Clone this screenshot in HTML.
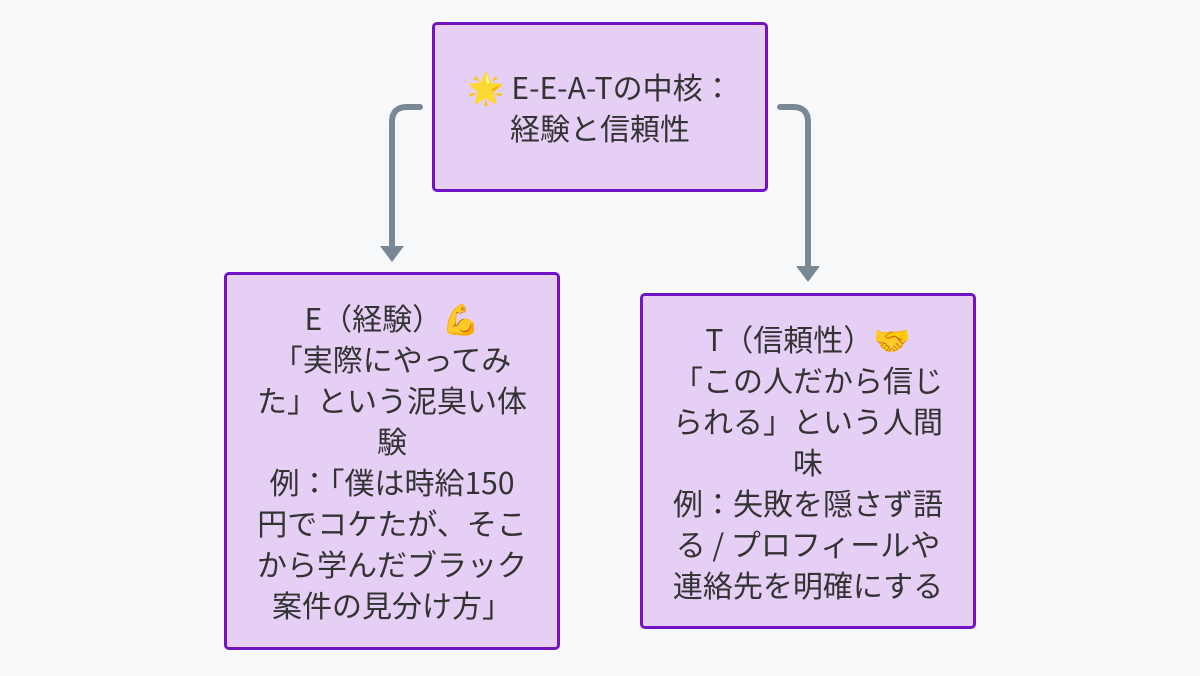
<!DOCTYPE html>
<html><head><meta charset="utf-8"><style>
body{margin:0;width:1200px;height:676px;background:#f8f9fb;position:relative;overflow:hidden;font-family:"Noto Sans CJK JP","Liberation Sans",sans-serif;color:#333;}
.b{position:absolute;box-sizing:border-box;background:#e5cff4;border:3px solid #7014c4;border-radius:5px;display:flex;align-items:center;justify-content:center;text-align:center;font-size:30px;line-height:41px;white-space:nowrap;}
svg{position:absolute;left:0;top:0}
</style></head><body>
<svg width="1200" height="676">
<g fill="none" stroke="#7a8795" stroke-width="6" stroke-linecap="round">
<path d="M420 107 H407 Q392 107 392 122 V248"/>
<path d="M780 107 H793 Q808 107 808 122 V268"/>
</g>
<polygon points="380,246 404,246 392,262" fill="#7a8795"/>
<polygon points="796,266 820,266 808,282" fill="#7a8795"/>
</svg>
<div class="b" style="left:432px;top:22px;width:336px;height:170px;">🌟 E-E-A-Tの中核：<br>経験と信頼性</div>
<div class="b" style="left:224px;top:272px;width:336px;height:378px;">E（経験）💪<br>「実際にやってみ<br>た」という泥臭い体<br>験<br>例：「僕は時給150<br>円でコケたが、そこ<br>から学んだブラック<br>案件の見分け方」</div>
<div class="b" style="left:640px;top:293px;width:336px;height:336px;">T（信頼性）🤝<br>「この人だから信じ<br>られる」という人間<br>味<br>例：失敗を隠さず語<br>る / プロフィールや<br>連絡先を明確にする</div>
</body></html>
